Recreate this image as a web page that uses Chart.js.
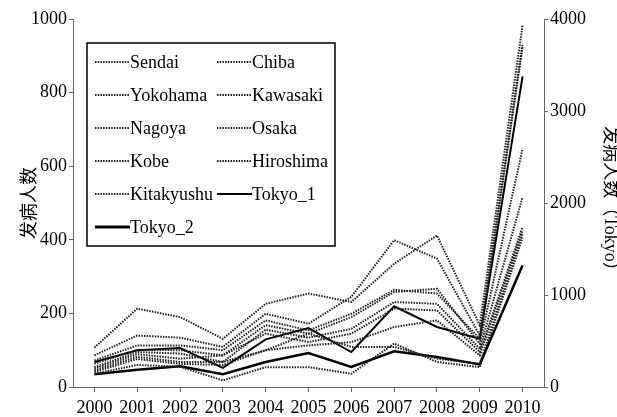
<!DOCTYPE html>
<html>
<head>
<meta charset="utf-8">
<script src="https://cdn.jsdelivr.net/npm/chart.js@4"></script>
<style>
body { margin: 0; background: #fff; }
</style>
</head>
<body>
<canvas id="cases" width="617" height="417"></canvas>
<script>
const years = ["2000", "2001", "2002", "2003", "2004", "2005", "2006", "2007", "2008", "2009", "2010"]

// left axis (cities)
const sendai     = [107, 213, 190, 131, 226, 254, 231, 335, 412, 168, 983]
const chiba      = [86, 140, 134, 109, 199, 172, 245, 399, 349, 140, 933]
const yokohama   = [72, 113, 113, 100, 181, 154, 199, 264, 254, 131, 924]
const kawasaki   = [63, 101, 100, 86, 168, 145, 190, 258, 267, 118, 648]
const nagoya     = [54, 95, 91, 68, 156, 134, 158, 231, 226, 104, 516]
const osaka      = [50, 89, 77, 86, 145, 122, 145, 213, 208, 95, 435]
const kobe       = [45, 82, 68, 68, 100, 113, 122, 163, 181, 86, 426]
const hiroshima  = [41, 76, 63, 60, 100, 145, 109, 109, 77, 63, 417]
const kitakyushu = [36, 60, 55, 18, 54, 54, 36, 118, 68, 54, 406]

// right axis (Tokyo)
const tokyo1 = [272, 400, 424, 207, 518, 641, 380, 877, 652, 525, 3377]
const tokyo2 = [138, 188, 225, 138, 272, 370, 217, 388, 326, 246, 1323]

const leftMax = 1000
const leftStep = 200
const rightMax = 4000
const rightStep = 1000

const serif = "'Liberation Serif', 'Times New Roman', 'Noto Sans CJK SC', serif"

const cityLine = (label, data) => ({
	label: label,
	data: data,
	yAxisID: 'y',
	borderColor: '#222',
	borderWidth: 2,
	borderDash: [1.5, 1.2],
	pointRadius: 0,
	tension: 0,
	fill: false
})

const tokyoLine = (label, data, width) => ({
	label: label,
	data: data,
	yAxisID: 'y2',
	borderColor: '#000',
	borderWidth: width,
	pointRadius: 0,
	tension: 0,
	fill: false
})

// legend drawn as a framed two-column box inside the plot
const boxLegend = {
	id: 'boxLegend',
	afterDatasetsDraw(chart) {
		const ctx = chart.ctx
		ctx.save()
		ctx.fillStyle = '#fff'
		ctx.fillRect(87, 43, 248, 203)
		ctx.strokeStyle = '#000'
		ctx.lineWidth = 1.5
		ctx.strokeRect(87, 43, 248, 203)
		ctx.font = "18px " + serif
		ctx.textBaseline = 'middle'
		chart.data.datasets.forEach((ds, i) => {
			const col = i % 2
			const row = Math.floor(i / 2)
			const x = col ? 217 : 95
			const y = 62 + row * 33
			ctx.setLineDash(ds.borderDash || [])
			ctx.strokeStyle = ds.borderColor
			ctx.lineWidth = ds.label === 'Tokyo_2' ? 3 : ds.borderWidth
			ctx.beginPath()
			ctx.moveTo(x, y)
			ctx.lineTo(x + 35, y)
			ctx.stroke()
			ctx.setLineDash([])
			ctx.fillStyle = '#000'
			ctx.fillText(ds.label, x + 35, y + 1)
		})
		ctx.restore()
	}
}

const axisColor = '#666'
const plain = value => String(value)

new Chart(document.getElementById('cases'), {
	type: 'line',
	data: {
		labels: years,
		datasets: [
			cityLine('Sendai', sendai),
			cityLine('Chiba', chiba),
			cityLine('Yokohama', yokohama),
			cityLine('Kawasaki', kawasaki),
			cityLine('Nagoya', nagoya),
			cityLine('Osaka', osaka),
			cityLine('Kobe', kobe),
			cityLine('Hiroshima', hiroshima),
			cityLine('Kitakyushu', kitakyushu),
			tokyoLine('Tokyo_1', tokyo1, 2),
			tokyoLine('Tokyo_2', tokyo2, 2.5)
		]
	},
	options: {
		responsive: false,
		animation: false,
		devicePixelRatio: 1,
		layout: { padding: { top: 19 } },
		plugins: {
			legend: { display: false },
			tooltip: { enabled: false }
		},
		scales: {
			x: {
				offset: true,
				grid: { drawOnChartArea: false, drawTicks: true, tickLength: 5, color: axisColor },
				border: { display: true, color: axisColor, width: 1 },
				ticks: { color: '#000', font: { family: serif, size: 18 }, padding: 5, maxRotation: 0, autoSkip: false },
				afterFit(scale) { scale.height = 30 }
			},
			y: {
				position: 'left',
				min: 0,
				max: leftMax,
				grid: { drawOnChartArea: false, drawTicks: true, tickLength: 4, color: axisColor },
				border: { display: true, color: axisColor, width: 1 },
				ticks: { stepSize: leftStep, color: '#000', font: { family: serif, size: 18 }, padding: 2, callback: plain },
				title: { display: true, text: '发病人数', color: '#000', font: { family: serif, size: 18 }, padding: { top: 19, bottom: 0 } },
				afterFit(scale) { scale.width = 73 }
			},
			y2: {
				position: 'right',
				min: 0,
				max: rightMax,
				grid: { drawOnChartArea: false, drawTicks: true, tickLength: 4, color: axisColor },
				border: { display: true, color: axisColor, width: 1 },
				ticks: { stepSize: rightStep, color: '#000', font: { family: serif, size: 18 }, padding: 2, callback: plain },
				title: { display: true, text: '发病人数（Tokyo）', color: '#000', font: { family: serif, size: 18, lineHeight: 1 }, padding: { top: -2, bottom: 0 } },
				afterFit(scale) { scale.width = 73 }
			}
		}
	},
	plugins: [boxLegend]
})
</script>
</body>
</html>
